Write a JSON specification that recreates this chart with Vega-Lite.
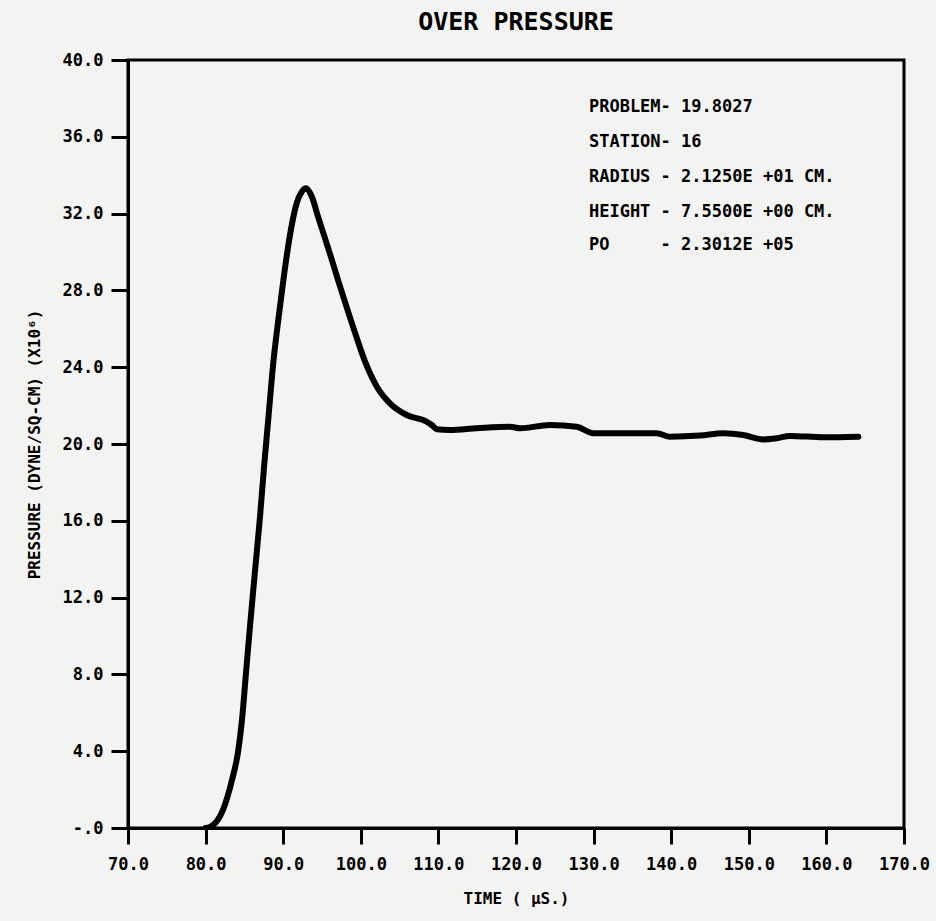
{
  "$schema": "https://vega.github.io/schema/vega-lite/v6.json",
  "width": 776,
  "height": 768,
  "autosize": {"type": "none"},
  "padding": {"left": 128, "top": 60, "right": 32, "bottom": 93},
  "background": "#f3f3f1",
  "title": {
    "text": "OVER PRESSURE",
    "anchor": "middle",
    "font": "DejaVu Sans Mono",
    "fontWeight": "bold",
    "fontSize": 25,
    "color": "#000000",
    "offset": 16
  },
  "config": {
    "view": {"stroke": "#000000", "strokeWidth": 3},
    "axis": {
      "domainColor": "#000000",
      "domainWidth": 3,
      "tickColor": "#000000",
      "tickWidth": 3,
      "grid": false,
      "labelFont": "DejaVu Sans Mono",
      "labelFontWeight": "bold",
      "labelFontSize": 17,
      "labelColor": "#000000",
      "labelFlush": false,
      "labelOverlap": false,
      "titleFont": "DejaVu Sans Mono",
      "titleFontWeight": "bold",
      "titleColor": "#000000"
    }
  },
  "datasets": {
    "curve": [
      {"t": 80.0, "p": 0.0},
      {"t": 80.57, "p": 0.05},
      {"t": 82.24, "p": 0.94},
      {"t": 83.40, "p": 2.50},
      {"t": 84.18, "p": 3.96},
      {"t": 84.69, "p": 5.63},
      {"t": 85.21, "p": 8.1},
      {"t": 85.72, "p": 10.5},
      {"t": 86.37, "p": 13.4},
      {"t": 87.01, "p": 16.2},
      {"t": 87.53, "p": 18.8},
      {"t": 88.08, "p": 21.3},
      {"t": 88.72, "p": 24.22},
      {"t": 89.37, "p": 26.46},
      {"t": 90.01, "p": 28.5},
      {"t": 90.53, "p": 30.0},
      {"t": 91.10, "p": 31.4},
      {"t": 91.74, "p": 32.55},
      {"t": 92.38, "p": 33.13},
      {"t": 92.94, "p": 33.32},
      {"t": 93.67, "p": 32.9},
      {"t": 94.52, "p": 31.8},
      {"t": 96.03, "p": 29.9},
      {"t": 97.10, "p": 28.5},
      {"t": 97.96, "p": 27.4},
      {"t": 99.25, "p": 25.8},
      {"t": 100.54, "p": 24.3},
      {"t": 102.05, "p": 23.0},
      {"t": 103.76, "p": 22.12},
      {"t": 105.91, "p": 21.51},
      {"t": 108.49, "p": 21.16},
      {"t": 109.14, "p": 20.99},
      {"t": 109.78, "p": 20.77},
      {"t": 111.49, "p": 20.73},
      {"t": 114.94, "p": 20.82},
      {"t": 119.23, "p": 20.90},
      {"t": 120.52, "p": 20.82},
      {"t": 124.38, "p": 20.99},
      {"t": 127.82, "p": 20.90},
      {"t": 129.96, "p": 20.56},
      {"t": 138.13, "p": 20.56},
      {"t": 139.85, "p": 20.38},
      {"t": 143.71, "p": 20.44},
      {"t": 146.71, "p": 20.56},
      {"t": 149.29, "p": 20.47},
      {"t": 151.87, "p": 20.24},
      {"t": 153.60, "p": 20.30},
      {"t": 155.31, "p": 20.42},
      {"t": 159.60, "p": 20.35},
      {"t": 164.11, "p": 20.38}
    ],
    "notes": [
      {"t": 129.4, "p": 37.57, "label": "PROBLEM- 19.8027"},
      {"t": 129.4, "p": 35.74, "label": "STATION- 16"},
      {"t": 129.4, "p": 33.92, "label": "RADIUS\u00a0- 2.1250E\u00a0+01\u00a0CM."},
      {"t": 129.4, "p": 32.10, "label": "HEIGHT\u00a0- 7.5500E\u00a0+00\u00a0CM."},
      {"t": 129.4, "p": 30.36, "label": "PO\u00a0\u00a0\u00a0\u00a0\u00a0- 2.3012E\u00a0+05"}
    ]
  },
  "layer": [
    {
      "data": {"name": "curve"},
      "mark": {"type": "line", "color": "#000000", "strokeWidth": 6, "strokeCap": "round", "strokeJoin": "round", "interpolate": "monotone", "clip": true},
      "encoding": {
        "x": {
          "field": "t",
          "type": "quantitative",
          "scale": {"domain": [70, 170], "nice": false, "zero": false},
          "axis": {
            "values": [70, 80, 90, 100, 110, 120, 130, 140, 150, 160, 170],
            "format": ".1f",
            "tickSize": 16,
            "labelPadding": 12,
            "title": "TIME ( μS.)",
            "titleFontSize": 16,
            "titlePadding": 18
          }
        },
        "y": {
          "field": "p",
          "type": "quantitative",
          "scale": {"domain": [0, 40], "nice": false},
          "axis": {
            "values": [0, 4, 8, 12, 16, 20, 24, 28, 32, 36, 40],
            "labelExpr": "datum.value == 0 ? '-.0' : format(datum.value, '.1f')",
            "tickSize": 17,
            "labelPadding": 8,
            "title": "PRESSURE (DYNE/SQ-CM) (X10⁶)",
            "titleFontSize": 16,
            "titlePadding": 20
          }
        }
      }
    },
    {
      "data": {"name": "notes"},
      "mark": {"type": "text", "align": "left", "baseline": "middle", "font": "DejaVu Sans Mono", "fontWeight": "bold", "fontSize": 17, "color": "#000000"},
      "encoding": {
        "x": {"field": "t", "type": "quantitative"},
        "y": {"field": "p", "type": "quantitative"},
        "text": {"field": "label"}
      }
    }
  ]
}
